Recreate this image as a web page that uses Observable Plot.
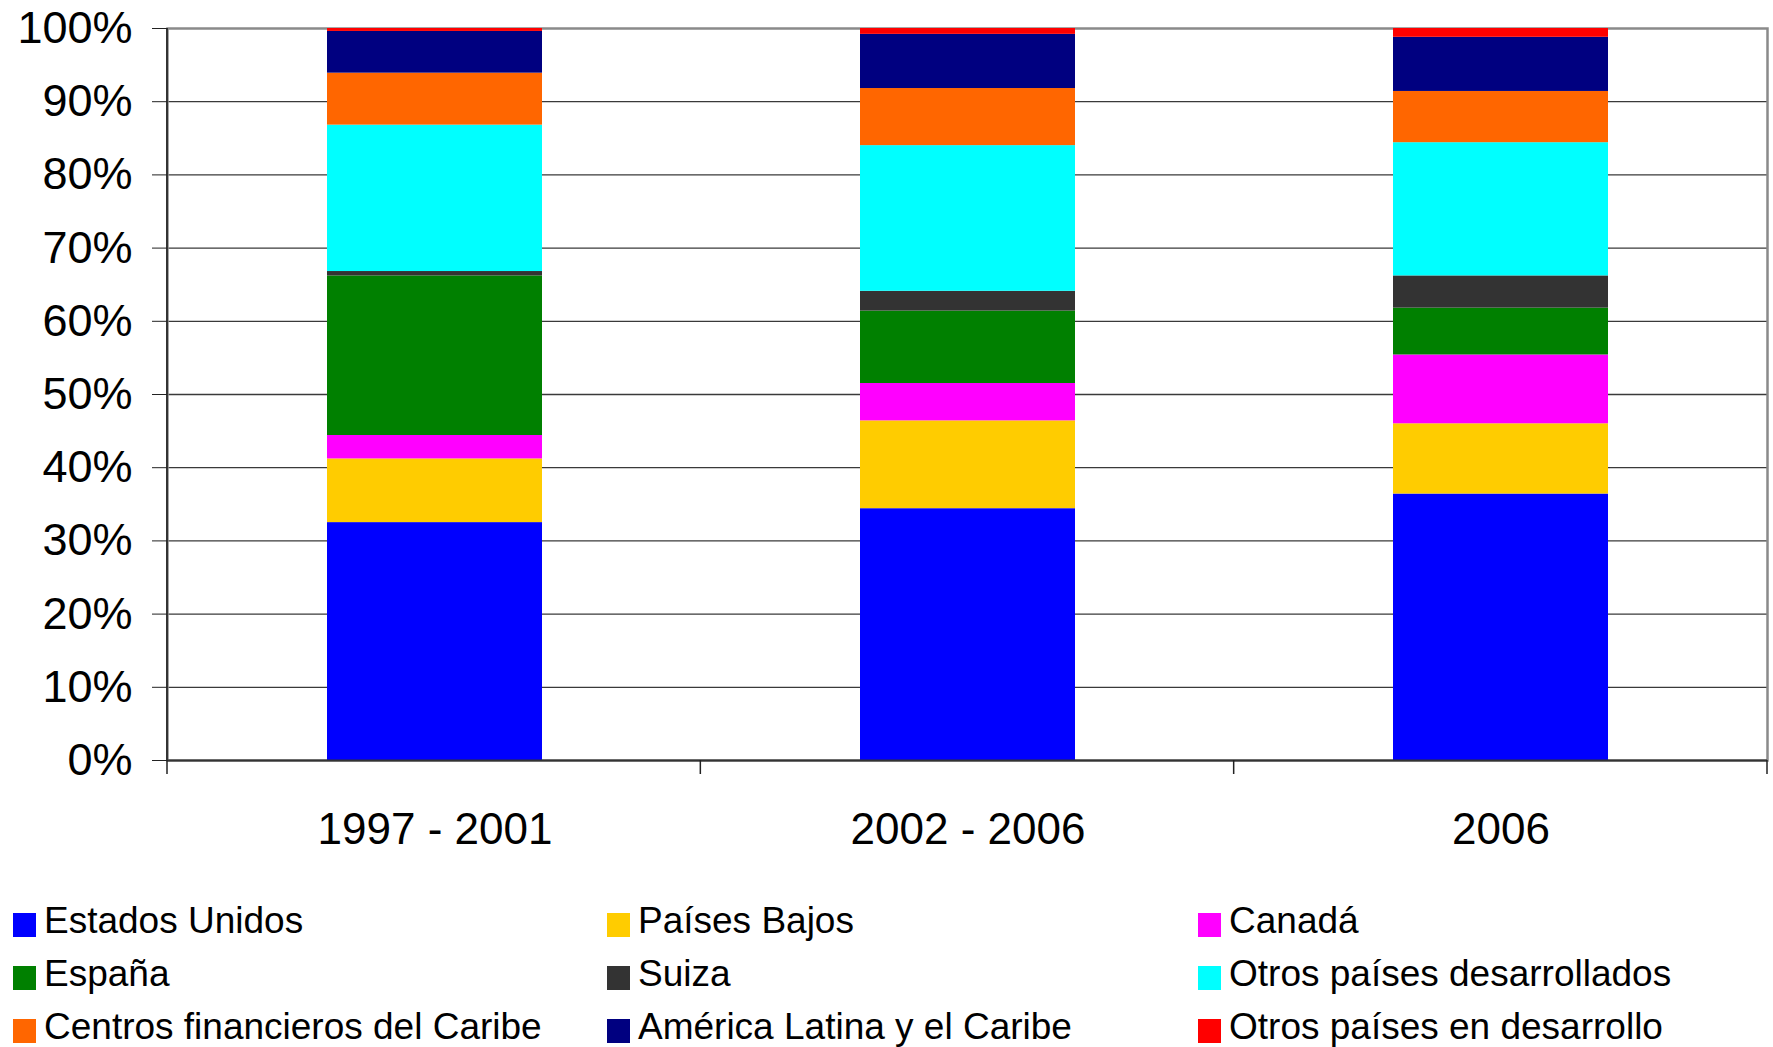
<!DOCTYPE html>
<html>
<head>
<meta charset="utf-8">
<script src="https://cdn.jsdelivr.net/npm/d3@7"></script>
<script src="https://cdn.jsdelivr.net/npm/@observablehq/plot@0.6"></script>
<style>
  html, body { margin: 0; padding: 0; background: white; }
  #wrap { position: relative; width: 1773px; height: 1047px; overflow: hidden; background: white; font-family: 'Liberation Sans', Arial, sans-serif; }
  .lg-mark { position: absolute; width: 23px; height: 24px; }
  .lg-text { position: absolute; font-size: 37px; line-height: 37px; white-space: nowrap; color: black; }
</style>
</head>
<body>
<div id="wrap"></div>
<script>
// Categories (x axis)
const categories = ["1997 - 2001", "2002 - 2006", "2006"];

// Series names (legend order, stacked bottom to top)
const series = [
  "Estados Unidos",
  "Países Bajos",
  "Canadá",
  "España",
  "Suiza",
  "Otros países desarrollados",
  "Centros financieros del Caribe",
  "América Latina y el Caribe",
  "Otros países en desarrollo"
];

const colors = ["#0000FF", "#FFCC00", "#FF00FF", "#008000", "#333333", "#00FFFF", "#FF6600", "#000080", "#FF0000"];

// Shares (%) per period
const estadosUnidos      = [32.5, 34.4, 36.4];
const paisesBajos        = [8.7, 12.0, 9.6];
const canada             = [3.2, 5.1, 9.4];
const espana             = [21.8, 9.9, 6.4];
const suiza              = [0.6, 2.7, 4.4];
const otrosDesarrollados = [20.0, 19.9, 18.2];
const centrosCaribe      = [7.1, 7.8, 7.0];
const americaLatina      = [5.7, 7.4, 7.4];
const otrosEnDesarrollo  = [0.4, 0.8, 1.2];

const yTicks = [0, 0.1, 0.2, 0.3, 0.4, 0.5, 0.6, 0.7, 0.8, 0.9, 1];

const valuesBySeries = [estadosUnidos, paisesBajos, canada, espana, suiza, otrosDesarrollados, centrosCaribe, americaLatina, otrosEnDesarrollo];

const rows = series.flatMap((s, i) => categories.map((c, j) => ({series: s, period: c, value: valuesBySeries[i][j] / 100})));

// custom mark: left axis line and category boundary ticks
function axisLines(index, scales, values, dimensions) {
  const {width, height, marginLeft, marginRight, marginTop, marginBottom} = dimensions;
  const left = marginLeft, right = width - marginRight, bottom = height - marginBottom;
  const g = d3.create("svg:g");
  g.append("line")
    .attr("x1", left).attr("x2", left).attr("y1", marginTop).attr("y2", bottom)
    .attr("stroke", "#333").attr("stroke-width", 2);
  const n = categories.length;
  for (let i = 0; i <= n; i++) {
    const x = left + i * (right - left) / n;
    g.append("line")
      .attr("x1", x).attr("x2", x).attr("y1", bottom).attr("y2", bottom + 14)
      .attr("stroke", "#222").attr("stroke-width", 1.5);
  }
  return g.node();
}

const chart = Plot.plot({
  width: 1773,
  height: 880,
  marginLeft: 167,
  marginRight: 6,
  marginTop: 28,
  marginBottom: 120,
  x: {domain: categories, paddingInner: 0.597, paddingOuter: 0.2985, label: null},
  y: {domain: [0, 1], label: null},
  color: {domain: series, range: colors},
  style: {fontFamily: "'Liberation Sans', Arial, sans-serif", color: "black", background: "white", overflow: "visible"},
  marks: [
    Plot.ruleY(yTicks.filter(t => t > 0 && t < 1), {stroke: "#3a3a3a", strokeWidth: 1.3}),
    Plot.frame({stroke: "#8a8a8a", strokeWidth: 2.5}),
    Plot.barY(rows, {x: "period", y: "value", fill: "series", inset: 0}),
    Plot.ruleY([0], {stroke: "#333", strokeWidth: 2}),
    axisLines,
    Plot.axisY({ticks: yTicks, tickFormat: d3.format(".0%"), tickSize: 15, tickPadding: 20, fontSize: 45, stroke: "#222", fill: "black"}),
    Plot.axisX({tickSize: 0, tickPadding: 52, fontSize: 44, fill: "black"})
  ]
});

const wrap = document.getElementById("wrap");
chart.style.position = "absolute";
chart.style.left = "0px";
chart.style.top = "0px";
wrap.appendChild(chart);

// Legend (HTML, below the SVG)
const colX = [13, 607, 1198];
const rowBaseline = [933, 986, 1039];
series.forEach((s, i) => {
  const c = i % 3, r = Math.floor(i / 3);
  const m = document.createElement("div");
  m.className = "lg-mark";
  m.style.left = colX[c] + "px";
  m.style.top = (rowBaseline[r] - 20) + "px";
  m.style.background = colors[i];
  wrap.appendChild(m);
  const t = document.createElement("div");
  t.className = "lg-text";
  t.textContent = s;
  t.style.left = (colX[c] + 31) + "px";
  t.style.top = (rowBaseline[r] - 31) + "px";
  wrap.appendChild(t);
});
</script>
</body>
</html>
